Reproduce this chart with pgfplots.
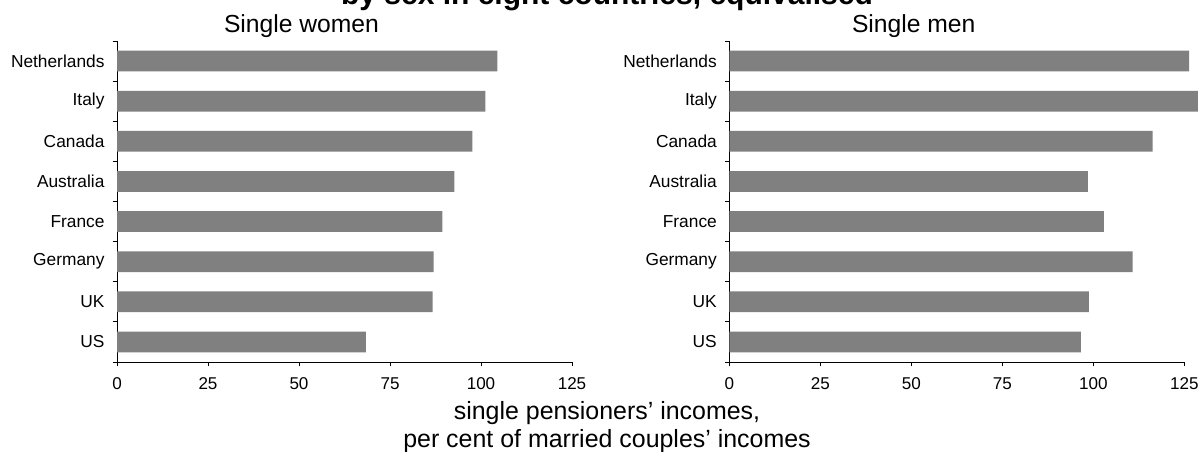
\documentclass[border=0pt]{standalone}
\usepackage{pgfplots}
\pgfplotsset{compat=1.18}
\usepackage{pgfplotstable}
\usepackage{fontspec}
\setmainfont{Liberation Sans}

\pgfplotstableread{
y name w m
0 US 68.4 96.6
1 UK 86.7 98.8
2 Germany 87.0 110.8
3 France 89.4 102.9
4 Australia 92.7 98.5
5 Canada 97.6 116.3
6 Italy 101.2 130.0
7 Netherlands 104.5 126.3
}\data

\definecolor{bargray}{RGB}{128,128,128}

\pgfplotsset{mystyle/.style={
  scale only axis, width=341.25pt, height=240.75pt,
  xbar, bar width=0.52,
  xmin=0, xmax=125, ymin=-0.5, ymax=7.5,
  axis x line*=bottom, axis y line*=left,
  axis line style={line width=0.7pt, black},
  clip=false,
  tick align=outside,
  xtick={0,25,50,75,100,125},
  ytick={-0.5,0.5,...,7.5},
  yticklabels={},
  extra y ticks={0,1,2,3,4,5,6,7},
  extra y tick labels={US,UK,Germany,France,Australia,Canada,Italy,Netherlands},
  extra y tick style={tick style={draw=none}},
  major tick length=3.2pt,
  every tick/.style={black, line width=0.7pt},
  /pgf/number format/assume math mode=true,
  xticklabel style={font=\fontsize{12.8}{15}\selectfont, anchor=base, inner sep=0pt, yshift=-17.8pt},
  yticklabel style={font=\fontsize{13}{15}\selectfont, anchor=east, inner sep=0pt, xshift=-6pt},
}}

\begin{document}
\begin{tikzpicture}
\path[use as bounding box, clip] (0,0) rectangle (898.5pt,339pt);

\begin{axis}[mystyle, at={(87.75pt,67.5pt)}, anchor=south west]
\addplot[fill=bargray, draw=none] table[x=w, y=y] {\data};
\end{axis}

\begin{axis}[mystyle, at={(547pt,67.5pt)}, anchor=south west]
\addplot[fill=bargray, draw=none] table[x=m, y=y] {\data};
\end{axis}

\node[anchor=base, font=\fontsize{18.5}{22}\selectfont] at (226.1pt,314.25pt) {Single women};
\node[anchor=base, font=\fontsize{18.5}{22}\selectfont] at (685.3pt,314.25pt) {Single men};
\node[anchor=base, font=\bfseries\fontsize{22.5}{27}\selectfont] at (455.25pt,335.25pt) {by sex in eight countries, equivalised};
\node[anchor=base, font=\fontsize{18.7}{22}\selectfont] at (455.25pt,24pt) {single pensioners’ incomes,};
\node[anchor=base, font=\fontsize{18.7}{22}\selectfont] at (455.25pt,3pt) {per cent of married couples’ incomes};
\end{tikzpicture}
\end{document}
